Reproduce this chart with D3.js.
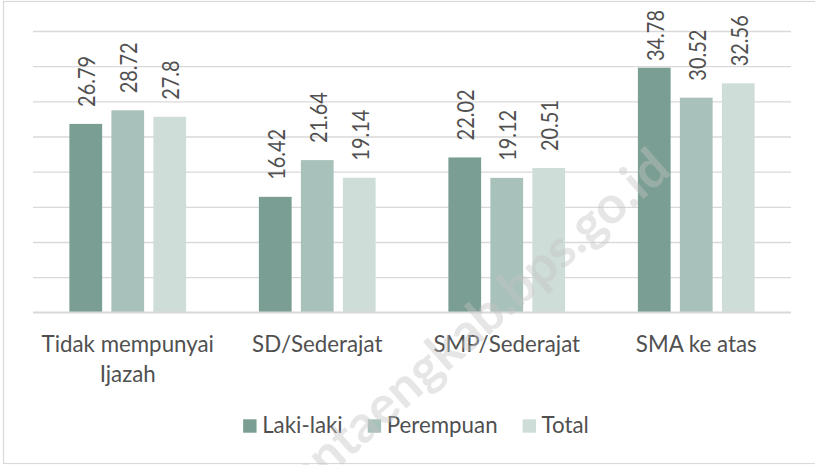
<!DOCTYPE html>
<html>
<head>
<meta charset="utf-8">
<script src="https://cdn.jsdelivr.net/npm/d3@7"></script>
<style>
  html, body { margin: 0; padding: 0; background: #fff; }
  svg { display: block; }
  text { font-family: Lato, "Open Sans", sans-serif; fill: #505050; }
</style>
</head>
<body>
<div id="chart"></div>
<script>
const categories = [["Tidak mempunyai", "Ijazah"], ["SD/Sederajat"], ["SMP/Sederajat"], ["SMA ke atas"]];
const series = ["Laki-laki", "Perempuan", "Total"];
const lakiLaki = [26.79, 16.42, 22.02, 34.78];
const perempuan = [28.72, 21.64, 19.12, 30.52];
const total = [27.8, 19.14, 20.51, 32.56];
const yTicks = [0, 5, 10, 15, 20, 25, 30, 35, 40];
const colors = ["#7a9e93", "#a8c1ba", "#cfddd8"];
const watermark = "bantaengkab.bps.go.id";

const width = 815;
const height = 465;
const margin = {top: 31, right: 24, bottom: 152.7, left: 33};
const fontSize = 23.5;
const squeeze = 0.95;     // narrower text, like the original font
const labelSqueeze = 0.85;

const catKeys = categories.map(c => c.join(" "));
const values = [lakiLaki, perempuan, total];
const data = catKeys.map((k, i) => ({
    key: k,
    lines: categories[i],
    vals: series.map((s, j) => ({series: s, idx: j, value: values[j][i]}))
}));

const x0 = d3.scaleBand().domain(catKeys).range([margin.left, width - margin.right]).padding(0);
const groupPad = x0.bandwidth() * 0.192;
const x1 = d3.scaleBand().domain(series).range([groupPad, x0.bandwidth() - groupPad]).paddingInner(0.22);
const y = d3.scaleLinear().domain([0, 40]).range([height - margin.bottom, margin.top]);
const color = d3.scaleOrdinal().domain(series).range(colors);

const svg = d3.select("#chart")
    .append("svg")
    .attr("width", width)
    .attr("height", height)
    .attr("viewBox", [0, 0, width, height]);

// chart frame
svg.append("rect")
    .attr("x", 3.5).attr("y", 1.5)
    .attr("width", 830).attr("height", 462)
    .attr("fill", "#fff")
    .attr("stroke", "#d9d9d9")
    .attr("stroke-width", 1.2);

// gridlines
svg.append("g")
    .attr("class", "grid")
    .attr("transform", `translate(${margin.left},0)`)
    .call(d3.axisLeft(y).tickValues(yTicks).tickSize(-(width - margin.left - margin.right)).tickFormat(""))
    .call(g => g.select(".domain").remove())
    .call(g => g.selectAll(".tick line").attr("stroke", "#d9d9d9").attr("stroke-width", 1.3));

// bars
const groups = svg.append("g")
    .attr("class", "bars")
    .selectAll("g")
    .data(data)
    .join("g")
    .attr("transform", d => `translate(${x0(d.key)},0)`);

groups.selectAll("rect")
    .data(d => d.vals)
    .join("rect")
    .attr("x", d => x1(d.series))
    .attr("y", d => y(d.value))
    .attr("width", x1.bandwidth())
    .attr("height", d => y(0) - y(d.value))
    .attr("fill", d => color(d.series));

// baseline
svg.append("line")
    .attr("x1", margin.left).attr("x2", width - margin.right)
    .attr("y1", y(0)).attr("y2", y(0))
    .attr("stroke", "#d9d9d9")
    .attr("stroke-width", 1.5);

// data labels, rotated
groups.selectAll("text.val")
    .data(d => d.vals)
    .join("text")
    .attr("class", "val")
    .attr("font-size", fontSize)
    .attr("dy", "0.36em")
    .text(d => d.value)
    .each(function(d) {
        const len = this.getComputedTextLength() * labelSqueeze;
        const cx = x1(d.series) + x1.bandwidth() / 2 + 1;
        const yb = Math.max(y(d.value) - 17, 10 + len);
        d3.select(this).attr("transform", `translate(${cx},${yb}) rotate(-90) scale(${labelSqueeze},1)`);
    });

// category labels
const xAxis = svg.append("g").attr("class", "x-axis");
xAxis.selectAll("text")
    .data(data)
    .join("text")
    .attr("text-anchor", "middle")
    .attr("font-size", fontSize)
    .attr("transform", d => `translate(${x0(d.key) + x0.bandwidth() / 2},351.7) scale(${squeeze},1)`)
    .selectAll("tspan")
    .data(d => d.lines)
    .join("tspan")
    .attr("x", 0)
    .attr("dy", (d, i) => i === 0 ? 0 : 30)
    .text(d => d);

// legend
const legend = svg.append("g").attr("class", "legend");
const items = legend.selectAll("g")
    .data(series)
    .join("g");
items.append("rect")
    .attr("width", 13.4).attr("height", 13.4)
    .attr("y", 419.3)
    .attr("fill", d => color(d));
items.append("text")
    .attr("font-size", fontSize)
    .attr("transform", `translate(19,432.7) scale(${squeeze},1)`)
    .text(d => d);
let pos = 0;
items.each(function() {
    d3.select(this).attr("transform", `translate(${pos},0)`);
    pos += 19 + d3.select(this).select("text").node().getComputedTextLength() * squeeze + 25;
});
const legendWidth = pos - 25;
legend.attr("transform", `translate(${416 - legendWidth / 2},0)`);

// watermark
svg.append("text")
    .attr("transform", "translate(673,173) rotate(-41.4)")
    .attr("text-anchor", "end")
    .attr("font-family", "Liberation Sans, Arial, sans-serif")
    .attr("font-weight", "bold")
    .attr("font-size", 52)
    .style("fill", "#c4c4c4")
    .style("fill-opacity", 0.42)
    .text(watermark);
</script>
</body>
</html>
